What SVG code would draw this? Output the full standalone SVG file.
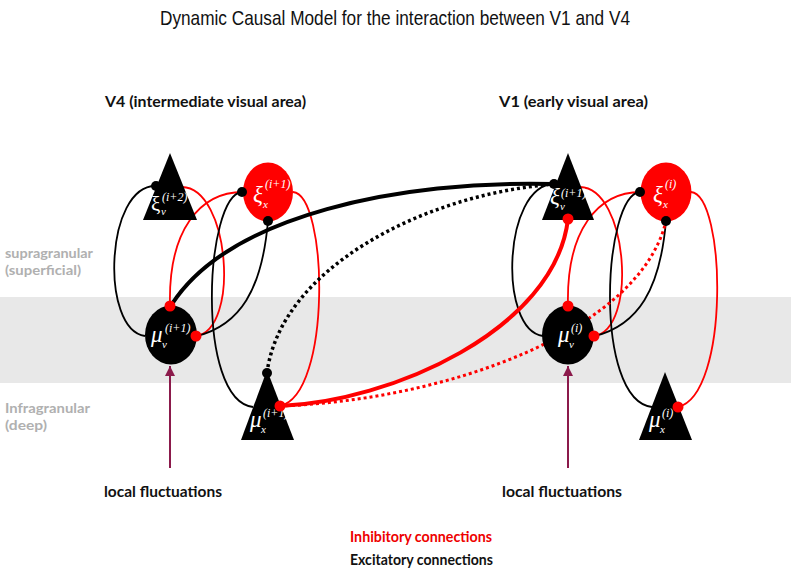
<svg xmlns="http://www.w3.org/2000/svg" width="791" height="570" viewBox="0 0 791 570">
<style>
.title{font-family:"Liberation Sans",Arial,sans-serif;font-size:21px;fill:#111}
.hd{font-family:Lato,"Liberation Sans",sans-serif;font-weight:bold;font-size:16px;fill:#111}
.gl{font-family:Lato,"Liberation Sans",sans-serif;font-weight:bold;font-size:14px;fill:#b0b0b0}
.m{font-family:"Liberation Serif","DejaVu Serif",serif;font-style:italic;fill:#fff}
.mu{font-size:23px}
.sp{font-size:12px}
.sb{font-size:11px}
.thinK{fill:none;stroke:#000;stroke-width:1.8}
.thinR{fill:none;stroke:#f00;stroke-width:1.8}
.thickK{fill:none;stroke:#000;stroke-width:4}
.thickR{fill:none;stroke:#f00;stroke-width:4}
.dotK{fill:none;stroke:#000;stroke-width:3.5;stroke-dasharray:3 3}
.dotR{fill:none;stroke:#f00;stroke-width:3;stroke-dasharray:3 3}
.inp{fill:none;stroke:#8b1a4b;stroke-width:2}
.dk{fill:#000}
.dr{fill:#f00}
</style>
<defs>
<marker id="ah" viewBox="0 0 10 10" refX="10" refY="5" markerWidth="5" markerHeight="5" orient="auto" markerUnits="strokeWidth">
<path d="M0,0 L10,5 L0,10 Z" fill="#8b1a4b"/>
</marker>
</defs>
<rect x="0" y="297" width="791" height="86" fill="#e8e8e8"/>
<text class="title" x="160" y="25" textLength="470" lengthAdjust="spacingAndGlyphs">Dynamic Causal Model for the interaction between V1 and V4</text>
<text class="hd" x="105" y="107" textLength="201" lengthAdjust="spacingAndGlyphs">V4 (intermediate visual area)</text>
<text class="hd" x="499" y="107" textLength="149" lengthAdjust="spacingAndGlyphs">V1 (early visual area)</text>
<text class="gl" x="5" y="258" textLength="88" lengthAdjust="spacingAndGlyphs">supragranular</text>
<text class="gl" x="5" y="275" textLength="76" lengthAdjust="spacingAndGlyphs">(superficial)</text>
<text class="gl" x="5" y="413" textLength="85" lengthAdjust="spacingAndGlyphs">Infragranular</text>
<text class="gl" x="5" y="430" textLength="42" lengthAdjust="spacingAndGlyphs">(deep)</text>
<text class="hd" x="104" y="497" textLength="118" lengthAdjust="spacingAndGlyphs">local fluctuations</text>
<text class="hd" x="502" y="497" textLength="120" lengthAdjust="spacingAndGlyphs">local fluctuations</text>
<text class="hd" x="350" y="542" textLength="142" lengthAdjust="spacingAndGlyphs" style="fill:#e00">Inhibitory connections</text>
<text class="hd" x="350" y="565" textLength="143" lengthAdjust="spacingAndGlyphs">Excitatory connections</text>
<g id="connectors">
<path class="thinK" d="M156,186 C105,185 100,330 145,336"/>
<path class="thinR" d="M182,187 C230,188 240,330 196,336"/>
<path class="thinR" d="M170,306 C168,230 200,192 243,192"/>
<path class="thinK" d="M242,192 C205,195 195,400 253,407"/>
<path class="thinK" d="M268,221 C262,290 240,325 197,336"/>
<path class="thinR" d="M293,192 C328,195 332,395 280,406"/>
<path class="thinK" d="M554,184 C503,185 498,330 543,336"/>
<path class="thinR" d="M580,187 C628,188 638,330 594,336"/>
<path class="thinR" d="M568,306 C566,230 598,192 641,192"/>
<path class="thinK" d="M640,192 C603,195 593,400 652,407"/>
<path class="thinK" d="M666,221 C660,290 638,325 595,336"/>
<path class="thinR" d="M691,192 C726,195 730,395 678,407"/>
<path class="thickK" d="M172,304 C230,215 400,180 554,184"/>
<path class="dotK" d="M267,373 C280,270 420,195 554,184"/>
<path class="dotR" d="M280,406 C450,400 640,330 666,221"/>
<path class="thickR" d="M280,406 C390,402 555,330 568,219"/>
<path class="inp" d="M170,468 L170,366" marker-end="url(#ah)"/>
<path class="inp" d="M568,468 L568,366" marker-end="url(#ah)"/>
</g>
<g id="xi_v_i2">
<polygon points="170,153 143,220 197,220" fill="#000"/>
<text class="m" x="151" y="211" style="font-style:normal;font-size:21px">ξ</text>
<text class="m sb" x="161" y="215">v</text>
<text class="m sp" x="162" y="201">(i+2)</text>
<circle class="dk" cx="156" cy="186" r="5"/>
</g>
<g id="xi_x_i1">
<ellipse cx="268" cy="192" rx="25" ry="29.5" fill="#f00"/>
<text class="m mu" x="253" y="202">ξ</text>
<text class="m sb" x="263" y="208">x</text>
<text class="m sp" x="265" y="188">(i+1)</text>
<circle class="dk" cx="242" cy="192" r="5"/>
<circle class="dk" cx="268" cy="221" r="5"/>
</g>
<g id="mu_v_i1">
<ellipse cx="171" cy="335" rx="26" ry="29.5" fill="#000"/>
<text class="m mu" x="151" y="342">μ</text>
<text class="m sb" x="162" y="348">v</text>
<text class="m sp" x="165" y="332">(i+1)</text>
<circle class="dr" cx="170" cy="306" r="5.5"/>
<circle class="dr" cx="196" cy="336" r="5.5"/>
</g>
<g id="mu_x_i1">
<polygon points="267,370 241,440 294,440" fill="#000"/>
<text class="m mu" x="250" y="427">μ</text>
<text class="m sb" x="261" y="433">x</text>
<text class="m sp" x="263" y="417">(i+1)</text>
<circle class="dk" cx="267" cy="373" r="5"/>
<circle class="dr" cx="280" cy="406" r="5.5"/>
</g>
<g id="xi_v_i1">
<polygon points="568,153 542,220 594,220" fill="#000"/>
<text class="m mu" x="550" y="204">ξ</text>
<text class="m sb" x="560" y="210">v</text>
<text class="m sp" x="561" y="197">(i+1)</text>
<circle class="dk" cx="554" cy="184" r="5"/>
<circle class="dr" cx="568" cy="219" r="5.5"/>
</g>
<g id="xi_x_i">
<ellipse cx="666" cy="192" rx="25.5" ry="29.5" fill="#f00"/>
<text class="m mu" x="653" y="202">ξ</text>
<text class="m sb" x="663" y="208">x</text>
<text class="m sp" x="665" y="188">(i)</text>
<circle class="dk" cx="640" cy="192" r="5"/>
<circle class="dk" cx="666" cy="221" r="5"/>
</g>
<g id="mu_v_i">
<ellipse cx="568" cy="335" rx="26" ry="29.5" fill="#000"/>
<text class="m mu" x="558" y="342">μ</text>
<text class="m sb" x="569" y="348">v</text>
<text class="m sp" x="571" y="332">(i)</text>
<circle class="dr" cx="568" cy="306" r="5.5"/>
<circle class="dr" cx="594" cy="336" r="5.5"/>
</g>
<g id="mu_x_i">
<polygon points="665,372 639,440 692,440" fill="#000"/>
<text class="m mu" x="649" y="427">μ</text>
<text class="m sb" x="660" y="433">x</text>
<text class="m sp" x="662" y="417">(i)</text>
<circle class="dr" cx="678" cy="407" r="5.5"/>
</g>
</svg>
